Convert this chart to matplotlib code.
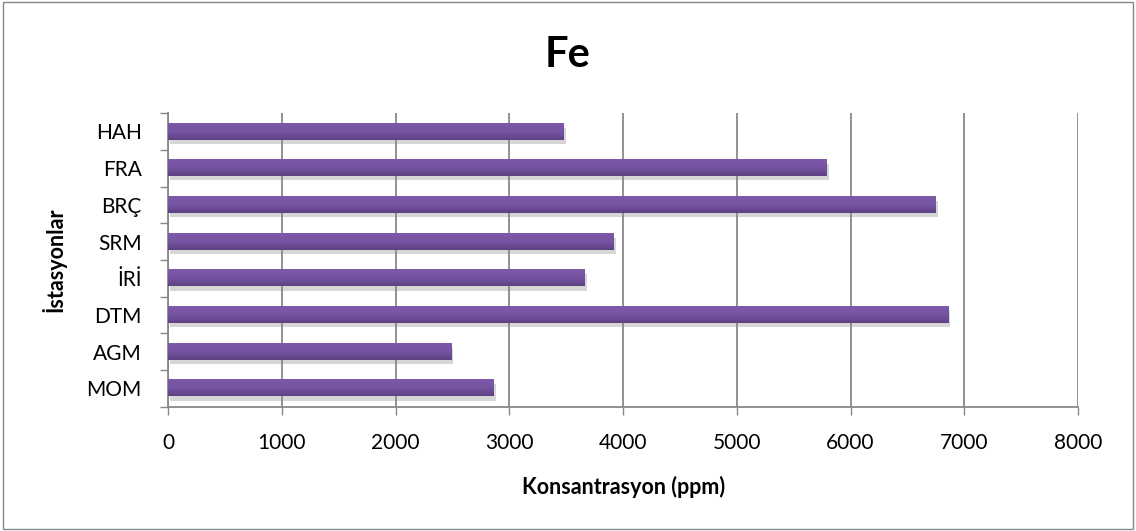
import matplotlib
matplotlib.use("Agg")
import matplotlib.pyplot as plt
import matplotlib.patheffects as pe
from matplotlib.colors import LinearSegmentedColormap
import numpy as np

# Data (bottom to top)
stations = ["MOM", "AGM", "DTM", "İRİ", "SRM", "BRÇ", "FRA", "HAH"]
fe_ppm = [2860, 2490, 6860, 3660, 3920, 6750, 5790, 3480]
xticks = [0, 1000, 2000, 3000, 4000, 5000, 6000, 7000, 8000]

plt.rcParams['font.family'] = ['Lato', 'DejaVu Sans']

fig = plt.figure(figsize=(11.36, 5.31), dpi=100)
ax = fig.add_axes([0.148, 0.234, 0.801, 0.553])

ypos = np.arange(len(stations))
bars = ax.barh(ypos, fe_ppm, height=0.44, color="#6a4c96", zorder=2)
for b in bars:
    b.set_path_effects([pe.SimplePatchShadow(offset=(1.5, -3), shadow_rgbFace="#8a8a8a", alpha=0.35), pe.Normal()])

# vertical gradient on each bar (light top, darker bottom)
purple = LinearSegmentedColormap.from_list("purp", ["#7e5aaa", "#7554a2", "#5d4283"])
grad = np.linspace(0, 1, 64).reshape(-1, 1)
for b in bars:
    x0, y0, w, h = b.get_x(), b.get_y(), b.get_width(), b.get_height()
    ax.imshow(grad, extent=[x0, x0 + w, y0, y0 + h], aspect='auto', cmap=purple,
              origin='upper', zorder=3, interpolation='bilinear')

ax.set_xlim(0, 8000)
ax.set_ylim(-0.5, len(stations) - 0.5)
ax.set_xticks(xticks)
ax.set_yticks(ypos)
ax.set_yticklabels(stations)
ax.set_yticks(np.arange(-0.5, len(stations), 1.0), minor=True)
ax.tick_params(axis='y', which='major', length=0, pad=19, labelsize=15)
ax.tick_params(axis='y', which='minor', length=6, color="#888888", width=1)
ax.tick_params(axis='x', which='major', length=6, color="#888888", width=1, pad=13, labelsize=15)

ax.grid(axis='x', color="#888888", linewidth=1.3, zorder=0)
ax.set_axisbelow(True)
for s in ['top', 'right']:
    ax.spines[s].set_visible(False)
for s in ['left', 'bottom']:
    ax.spines[s].set_color("#888888")
    ax.spines[s].set_linewidth(1.3)

ax.set_xlabel("Konsantrasyon (ppm)", fontsize=15.5, fontweight='bold', va='center')
ax.xaxis.set_label_coords(0.5, -0.272)
ax.set_ylabel("İstasyonlar", fontsize=15.5, fontweight='bold', va='center')
ax.yaxis.set_label_coords(-0.126, 0.5)
fig.text(0.5, 0.896, "Fe", ha='center', va='center', fontsize=30, fontweight='bold')

# outer frame
fig.patches.append(plt.Rectangle((0.003, 0.004), 0.994, 0.992, transform=fig.transFigure,
                                 fill=False, edgecolor="#888888", linewidth=1))

fig.savefig("out.png", dpi=100)
plt.close(fig)
